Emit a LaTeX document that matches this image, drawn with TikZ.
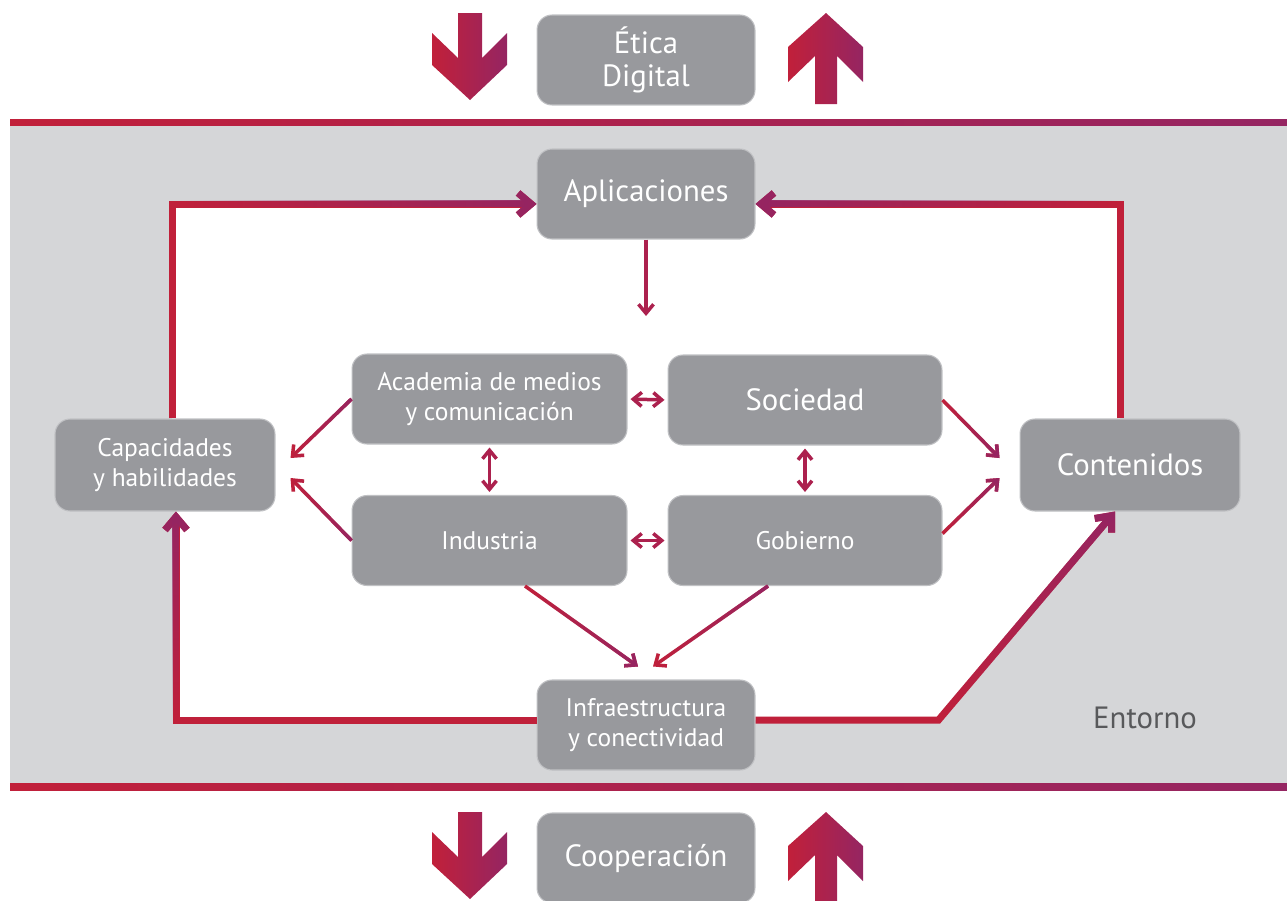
\documentclass[tikz,border=0pt]{standalone}
\usepackage{fontspec}
\setmainfont{PT Sans}
\usetikzlibrary{arrows.meta,calc,fadings}

\definecolor{cred}{RGB}{193,32,58}
\definecolor{cpurp}{RGB}{149,37,98}
\definecolor{cmid}{RGB}{172,33,78}
\definecolor{boxgray}{RGB}{152,153,157}
\definecolor{boxedge}{RGB}{192,193,196}
\definecolor{bandgray}{RGB}{213,214,216}
\definecolor{txtgray}{RGB}{88,89,91}

\tikzfading[name=toeast, left color=transparent!100, right color=transparent!0]
\tikzfading[name=towest, left color=transparent!0, right color=transparent!100]
\tikzfading[name=tonorth, top color=transparent!0, bottom color=transparent!100]

% red stroke, then purple faded in on top
\newcommand{\gradpath}[3][]{%
  \draw[cred,#1] #3;
  \draw[cpurp,path fading=#2,#1] #3;}

\tikzset{
  box/.style={rectangle, rounded corners=0.3cm, fill=boxgray, draw=boxedge, line width=0.6pt,
    text=white, align=center, minimum width=4.36cm, minimum height=1.8cm, inner sep=0pt},
  bigtxt/.style={font=\fontsize{17.5}{19}\selectfont},
  smalltxt/.style={font=\fontsize{14.5}{17}\selectfont},
  outerline/.style={line width=0.14cm, -{Straight Barb[length=0.26cm,width=0.44cm]}},
  inlink/.style={line width=0.07cm, -{Straight Barb[length=0.18cm,width=0.3cm]}},
  twolink/.style={line width=0.07cm, shorten <=0.06cm, shorten >=0.06cm,
    {Straight Barb[length=0.17cm,width=0.28cm]}-{Straight Barb[length=0.17cm,width=0.28cm]}},
}

\begin{document}
\begin{tikzpicture}[x=0.02cm, y=-0.02cm]
	\useasboundingbox (0,0) rectangle (1287,900);

	% Entorno band
	\fill[bandgray] (10,125) rectangle (1287,783);
	\fill[white] (172,204) -- (1120,204) -- (1120,500) -- (1115,510) -- (938,720)
		-- (176,720) -- (176,470) -- (172,470) -- cycle;
	\shade[left color=cred, right color=cpurp] (10,119) rectangle (1287,125);
	\shade[left color=cred, right color=cpurp] (10,783) rectangle (1287,790);

	% Big up and down arrows
	\foreach \dy in {0,799} {
		\shade[left color=cred, right color=cpurp, shift={(0,\dy)}]
			(458,13) -- (482,13) -- (482,58) -- (507,33) -- (507,65) -- (470,100)
			-- (432,65) -- (432,33) -- (458,58) -- cycle;
		\shade[left color=cred, right color=cpurp, shift={(0,\dy)}]
			(826,13) -- (863,47) -- (863,82) -- (837,56) -- (837,104) -- (815,104)
			-- (815,56) -- (788,82) -- (788,47) -- cycle;
	}

	\node[box, bigtxt] (etica) at (646,60) {Ética\\Digital};
	\node[box, bigtxt] (apl) at (646,194) {Aplicaciones};
	\node[box, smalltxt, minimum width=5.5cm] (aca) at (489.5,399) {Academia de medios\\y comunicación};
	\node[box, bigtxt, minimum width=5.48cm] (soc) at (805,400) {Sociedad};
	\node[box, smalltxt, minimum width=5.5cm] (ind) at (489.5,540.5) {Industria};
	\node[box, smalltxt, minimum width=5.48cm] (gob) at (805,540.5) {Gobierno};
	\node[box, smalltxt, minimum width=4.4cm, minimum height=1.84cm] (cap) at (165,465) {Capacidades\\y habilidades};
	\node[box, bigtxt, minimum width=4.4cm, minimum height=1.84cm] (con) at (1130,465) {Contenidos};
	\node[box, smalltxt] (inf) at (646,725) {Infraestructura\\y conectividad};
	\node[box, bigtxt] (coop) at (646,858) {Cooperación};
	\node[text=txtgray, bigtxt] (ent) at (1145,718) {Entorno};
	\coordinate (hub) at (646,316);

	% Outer loop
	\gradpath[outerline]{toeast}{($(cap.north)+(7.5,0)$) |- ($(apl.west)+(0,10)$)}
	\gradpath[outerline]{towest}{($(con.north)+(-10,0)$) |- ($(apl.east)+(0,10)$)}
	\gradpath[outerline]{tonorth}{($(inf.west)+(0,-5)$) -| ($(cap.south)+(11,0)$)}
	\gradpath[outerline]{tonorth}{($(inf.east)+(0,-5)$) -- ++(183,0) -- ($(con.south)+(-15,0)$)}

	% Inner links
	\draw[inlink, cmid] (apl.south) -- (hub);
	\draw[twolink, cmid] (aca.east) -- (soc.west);
	\draw[twolink, cmid] (ind.east) -- (gob.west);
	\draw[twolink, cmid] (aca.south) -- (ind.north);
	\draw[twolink, cmid] (soc.south) -- (gob.north);
	\gradpath[inlink]{toeast}{(aca.west) -- ($(cap.east)+(15,-7)$)}
	\gradpath[inlink]{toeast}{(ind.west) -- ($(cap.east)+(15,13)$)}
	\gradpath[inlink]{toeast}{(soc.east) -- ($(con.west)+(-20,-7)$)}
	\gradpath[inlink]{toeast}{($(gob.east)+(0,-7)$) -- ($(con.west)+(-20,13)$)}
	\gradpath[inlink]{toeast}{($(ind.south)+(35.5,0)$) -- ($(inf.north)+(-8,-13)$)}
	\gradpath[inlink]{toeast}{($(gob.south)+(-37,0)$) -- ($(inf.north)+(7,-13)$)}
\end{tikzpicture}
\end{document}
